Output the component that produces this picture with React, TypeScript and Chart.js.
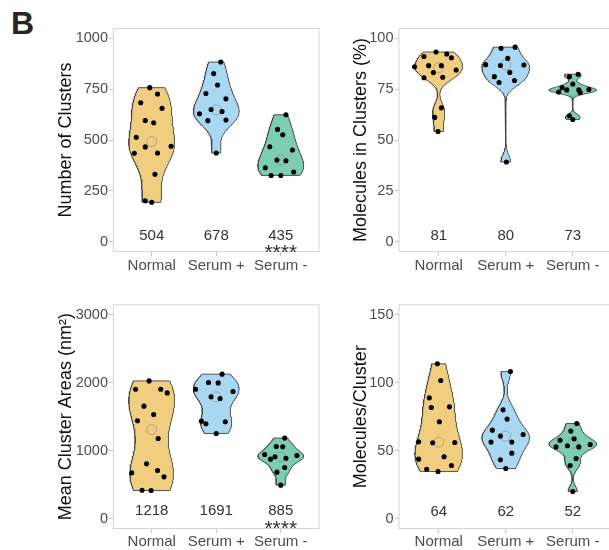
import React, { useEffect, useRef } from 'react';
import { Chart, registerables } from 'chart.js';

Chart.register(...registerables);

const FONT = '"Liberation Sans", Arial, Helvetica, sans-serif';

const categories = ['Normal', 'Serum +', 'Serum -'];

// ---- Panel 1: Number of Clusters ----
const clustersNormal = [757, 726, 683, 656, 596, 585, 513, 466, 469, 435, 436, 332, 202, 194];
const clustersNormalJitter = [-0.03, 0.09, -0.17, 0.16, -0.1, 0.03, -0.24, -0.1, 0.3, -0.27, 0.09, 0.05, -0.1, 0.0];
const clustersSerumPlus = [883, 826, 770, 728, 702, 650, 640, 629, 595, 598, 436];
const clustersSerumPlusJitter = [0.07, -0.04, 0.02, -0.16, 0.15, -0.08, 0.09, -0.26, -0.13, 0.15, 0.0];
const clustersSerumMinus = [624, 552, 526, 467, 451, 402, 398, 364, 343, 326, 326];
const clustersSerumMinusJitter = [0.08, -0.05, 0.03, -0.17, 0.18, -0.06, 0.08, -0.24, 0.2, -0.15, 0.0];
const clustersCenters = [492, 648, 402];
const clustersMeans = ['504', '678', '435'];
const clustersStars = ['', '', '****'];
const clustersTicks = [0, 250, 500, 750, 1000];

// ---- Panel 2: Molecules in Clusters (%) ----
const molPctNormal = [93.2, 91.0, 92.2, 90.4, 86.0, 86.5, 86.5, 84.4, 83.1, 80.6, 80.8, 65.8, 61.1, 54.2];
const molPctNormalJitter = [-0.04, -0.22, 0.12, 0.19, -0.36, -0.15, 0.04, 0.26, -0.08, -0.22, 0.06, 0.04, -0.06, -0.01];
const molPctSerumPlus = [95.0, 95.6, 90.1, 87.0, 86.6, 86.8, 83.2, 81.1, 79.2, 78.2, 39.2];
const molPctSerumPlusJitter = [-0.07, 0.14, 0.03, -0.3, -0.08, 0.27, 0.06, -0.17, 0.13, -0.1, 0.01];
const molPctSerumMinus = [82.3, 81.1, 75.7, 73.6, 74.6, 77.5, 74.6, 73.3, 74.8, 61.9, 60.1];
const molPctSerumMinusJitter = [0.08, -0.05, -0.16, -0.21, -0.09, 0.0, 0.09, 0.11, 0.24, -0.05, 0.0];
const molPctCenters = [85.5, 86.8, 74];
const molPctMeans = ['81', '80', '73'];
const molPctStars = ['', '', ''];
const molPctTicks = [0, 25, 50, 75, 100];

// ---- Panel 3: Mean Cluster Areas (nm²) ----
const areaNormal = [2025, 1903, 1903, 1849, 1654, 1531, 1439, 1179, 807, 709, 675, 616, 420, 416];
const areaNormalJitter = [-0.04, -0.25, 0.14, 0.24, -0.12, 0.03, -0.22, 0.1, -0.08, 0.09, -0.31, 0.19, -0.15, -0.01];
const areaSerumPlus = [2124, 2001, 1996, 1903, 1869, 1791, 1766, 1434, 1395, 1424, 1253];
const areaSerumPlusJitter = [0.09, -0.12, 0.03, -0.32, 0.26, -0.08, 0.06, -0.23, -0.16, 0.14, 0.0];
const areaSerumMinus = [1185, 1062, 1057, 945, 910, 876, 890, 930, 753, 685, 494];
const areaSerumMinusJitter = [0.06, -0.07, 0.03, -0.25, -0.09, -0.16, 0.08, 0.25, 0.06, -0.06, 0.0];
const areaCenters = [1311, 1791, 910];
const areaMeans = ['1218', '1691', '885'];
const areaStars = ['', '', '****'];
const areaTicks = [0, 1000, 2000, 3000];

// ---- Panel 4: Molecules/Cluster ----
const molClNormal = [113.8, 101.5, 88.8, 81.7, 82.2, 71.2, 56.5, 55.8, 56.0, 43.8, 45.5, 39.1, 36.4, 34.7];
const molClNormalJitter = [-0.02, 0.03, -0.14, -0.11, 0.16, 0.01, -0.3, -0.09, 0.24, -0.3, 0.08, 0.19, -0.18, -0.01];
const molClSerumPlus = [108.1, 80.0, 73.2, 65.1, 61.9, 60.7, 56.3, 56.3, 48.2, 43.3, 36.9];
const molClSerumPlusJitter = [0.07, -0.04, 0.02, -0.2, 0.26, -0.08, 0.09, -0.22, 0.09, -0.08, 0.0];
const molClSerumMinus = [70.0, 64.4, 57.7, 58.7, 52.8, 53.6, 52.8, 54.6, 44.3, 39.1, 20.0];
const molClSerumMinusJitter = [0.06, -0.03, -0.19, 0.02, -0.25, -0.08, 0.09, 0.26, 0.05, -0.04, 0.0];
const molClCenters = [56.3, 60.7, 55.3];
const molClMeans = ['64', '62', '52'];
const molClStars = ['', '', ''];
const molClTicks = [0, 50, 100, 150];

const COLORS = ['#F1CD7F', '#A8D8F2', '#7CCEB2'];
const HALF_WIDTH = 0.355;

type Panel = {
  title: string;
  min: number;
  max: number;
  ticks: number[];
  values: number[][];
  jitter: number[][];
  centers: number[];
  means: string[];
  stars: string[];
};

type Geom = {
  x: number; y: number; w: number; h: number;
  yAxisW: number; padRight: number; padTop: number; xAxisH: number;
  titlePad: number; labelOff: number; xTickPad: number;
};

const panels: Panel[] = [
  { title: 'Number of Clusters', min: -50, max: 1050, ticks: clustersTicks,
    values: [clustersNormal, clustersSerumPlus, clustersSerumMinus],
    jitter: [clustersNormalJitter, clustersSerumPlusJitter, clustersSerumMinusJitter],
    centers: clustersCenters, means: clustersMeans, stars: clustersStars },
  { title: 'Molecules in Clusters (%)', min: -5, max: 105, ticks: molPctTicks,
    values: [molPctNormal, molPctSerumPlus, molPctSerumMinus],
    jitter: [molPctNormalJitter, molPctSerumPlusJitter, molPctSerumMinusJitter],
    centers: molPctCenters, means: molPctMeans, stars: molPctStars },
  { title: 'Mean Cluster Areas (nm²)', min: -150, max: 3150, ticks: areaTicks,
    values: [areaNormal, areaSerumPlus, areaSerumMinus],
    jitter: [areaNormalJitter, areaSerumPlusJitter, areaSerumMinusJitter],
    centers: areaCenters, means: areaMeans, stars: areaStars },
  { title: 'Molecules/Cluster', min: -7.5, max: 157.5, ticks: molClTicks,
    values: [molClNormal, molClSerumPlus, molClSerumMinus],
    jitter: [molClNormalJitter, molClSerumPlusJitter, molClSerumMinusJitter],
    centers: molClCenters, means: molClMeans, stars: molClStars },
];

const geoms: Geom[] = [
  { x: 0, y: 0, w: 330, h: 278, yAxisW: 113, padRight: 10.5, padTop: 28, xAxisH: 26, titlePad: 55.5, labelOff: -12.5, xTickPad: 1 },
  { x: 0, y: 0, w: 290, h: 278, yAxisW: 68.5, padRight: 7, padTop: 28, xAxisH: 26, titlePad: 20, labelOff: -12.5, xTickPad: 1 },
  { x: 0, y: 278, w: 330, h: 272, yAxisW: 113, padRight: 10.5, padTop: 26.3, xAxisH: 21, titlePad: 55.5, labelOff: -14, xTickPad: 0 },
  { x: 0, y: 278, w: 290, h: 272, yAxisW: 68.5, padRight: 7, padTop: 26.3, xAxisH: 21, titlePad: 20, labelOff: -12.7, xTickPad: 0 },
];

function bwNrd0(x: number[]): number {
  const n = x.length;
  const mean = x.reduce((a, b) => a + b, 0) / n;
  const sd = Math.sqrt(x.reduce((a, b) => a + (b - mean) * (b - mean), 0) / (n - 1));
  const s = [...x].sort((a, b) => a - b);
  const q = (p: number) => {
    const h = (n - 1) * p;
    const lo = Math.floor(h);
    const hi = Math.min(lo + 1, n - 1);
    return s[lo] + (h - lo) * (s[hi] - s[lo]);
  };
  const iqr = q(0.75) - q(0.25);
  let lo = Math.min(sd, iqr / 1.34);
  if (!lo) lo = sd || Math.abs(s[0]) || 1;
  return 0.9 * lo * Math.pow(n, -0.2);
}

// Violin outline: gaussian kernel density of the group's values (trimmed to its range)
function violinOutline(vals: number[], center: number) {
  const bw = bwNrd0(vals);
  const mn = Math.min(...vals);
  const mx = Math.max(...vals);
  const N = 160;
  const ys: number[] = [];
  const ds: number[] = [];
  for (let i = 0; i <= N; i++) {
    const y = mn + ((mx - mn) * i) / N;
    ys.push(y);
    ds.push(vals.reduce((a, v) => a + Math.exp(-0.5 * ((y - v) / bw) ** 2), 0));
  }
  const dmax = Math.max(...ds);
  const right = ys.map((y, i) => ({ x: center + (HALF_WIDTH * ds[i]) / dmax, y }));
  const left = ys.map((y, i) => ({ x: center - (HALF_WIDTH * ds[i]) / dmax, y })).reverse();
  return [...right, ...left, right[0]];
}

function makeConfig(panel: Panel, g: Geom): any {
  const datasets: any[] = [];
  panel.values.forEach((vals, i) => {
    datasets.push({
      data: vals.map((v, j) => ({ x: i + 1 + panel.jitter[i][j], y: v })),
      pointRadius: 2.55,
      pointBackgroundColor: '#000',
      pointBorderWidth: 0,
      backgroundColor: '#000',
      borderWidth: 0,
      order: 0,
    });
  });
  datasets.push({
    data: panel.centers.map((c, i) => ({ x: i + 1, y: c })),
    pointRadius: 5,
    pointBackgroundColor: 'rgba(0,0,0,0)',
    pointBorderColor: 'rgba(120,120,120,0.6)',
    pointBorderWidth: 0.8,
    order: 1,
  });
  panel.values.forEach((vals, i) => {
    datasets.push({
      data: violinOutline(vals, i + 1),
      showLine: true,
      fill: 'shape',
      backgroundColor: COLORS[i],
      borderColor: '#444',
      borderWidth: 0.9,
      pointRadius: 0,
      tension: 0,
      order: 2,
    });
  });

  const annotate = {
    id: 'annotate' + panel.title,
    afterDatasetsDraw(chart: any) {
      const { ctx, chartArea, scales } = chart;
      ctx.save();
      ctx.strokeStyle = '#d4d4d4';
      ctx.lineWidth = 1;
      ctx.strokeRect(chartArea.left + 0.5, chartArea.top + 0.5, chartArea.right - chartArea.left - 1, chartArea.bottom - chartArea.top - 1);
      ctx.fillStyle = '#333';
      ctx.textAlign = 'center';
      ctx.textBaseline = 'alphabetic';
      ctx.font = `15px ${FONT}`;
      const base = chartArea.bottom + g.labelOff;
      panel.means.forEach((t, i) => {
        ctx.fillText(t, scales.x.getPixelForValue(i + 1), base);
      });
      ctx.font = `21px ${FONT}`;
      panel.stars.forEach((t, i) => {
        if (t) ctx.fillText(t, scales.x.getPixelForValue(i + 1), base + 19.5);
      });
      ctx.restore();
    },
  };

  return {
    type: 'scatter',
    data: { datasets },
    plugins: [annotate],
    options: {
      responsive: false,
      animation: false,
      devicePixelRatio: 1,
      events: [],
      layout: { padding: { left: 0, right: g.padRight, top: g.padTop, bottom: 0 } },
      plugins: { legend: { display: false }, tooltip: { enabled: false } },
      scales: {
        x: {
          type: 'linear',
          min: 0.4,
          max: 3.6,
          afterBuildTicks: (axis: any) => {
            axis.ticks = categories.map((_, i) => ({ value: i + 1 }));
          },
          afterFit: (axis: any) => {
            axis.height = g.xAxisH;
          },
          grid: { drawOnChartArea: false, drawTicks: true, tickLength: 4, color: '#c8c8c8', lineWidth: 1 },
          border: { display: false },
          ticks: {
            autoSkip: false,
            maxRotation: 0,
            minRotation: 0,
            padding: g.xTickPad,
            color: '#4d4d4d',
            font: { family: FONT, size: 15 },
            callback: (v: number) => categories[Math.round(v) - 1] ?? '',
          },
        },
        y: {
          type: 'linear',
          min: panel.min,
          max: panel.max,
          afterBuildTicks: (axis: any) => {
            axis.ticks = panel.ticks.map((v) => ({ value: v }));
          },
          afterFit: (axis: any) => {
            axis.width = g.yAxisW;
          },
          grid: { drawOnChartArea: false, drawTicks: true, tickLength: 4, color: '#c8c8c8', lineWidth: 1 },
          border: { display: false },
          ticks: {
            padding: 1,
            color: '#4d4d4d',
            font: { family: FONT, size: 14.5 },
            callback: (v: number) => String(v),
          },
          title: {
            display: true,
            text: panel.title,
            color: '#111',
            font: { family: FONT, size: 18 },
            padding: { top: g.titlePad, bottom: 0 },
          },
        },
      },
    },
  };
}

function PanelChart({ panel, geom }: { panel: Panel; geom: Geom }) {
  const ref = useRef<HTMLCanvasElement>(null);
  useEffect(() => {
    if (!ref.current) return;
    const chart = new Chart(ref.current, makeConfig(panel, geom));
    return () => chart.destroy();
  }, []);
  return (
    <canvas
      ref={ref}
      width={geom.w}
      height={geom.h}
      style={{ position: 'absolute', left: geom.x, top: geom.y, width: geom.w, height: geom.h }}
    />
  );
}

export default function App() {
  return (
    <div style={{ position: 'absolute', left: 0, top: 0, width: 609, height: 550, overflow: 'hidden', background: '#fff' }}>
      <div
        style={{
          position: 'absolute', left: 11, top: 7, fontFamily: FONT, fontWeight: 'bold',
          fontSize: 32, lineHeight: '32px', color: '#262626',
        }}
      >
        B
      </div>
      <div style={{ position: 'absolute', left: 0, top: 0, width: 330, height: 550 }}>
        <PanelChart panel={panels[0]} geom={geoms[0]} />
        <PanelChart panel={panels[2]} geom={geoms[2]} />
      </div>
      <div style={{ position: 'absolute', left: 330, top: 0, width: 279, height: 550, overflow: 'hidden' }}>
        <PanelChart panel={panels[1]} geom={geoms[1]} />
        <PanelChart panel={panels[3]} geom={geoms[3]} />
      </div>
    </div>
  );
}
